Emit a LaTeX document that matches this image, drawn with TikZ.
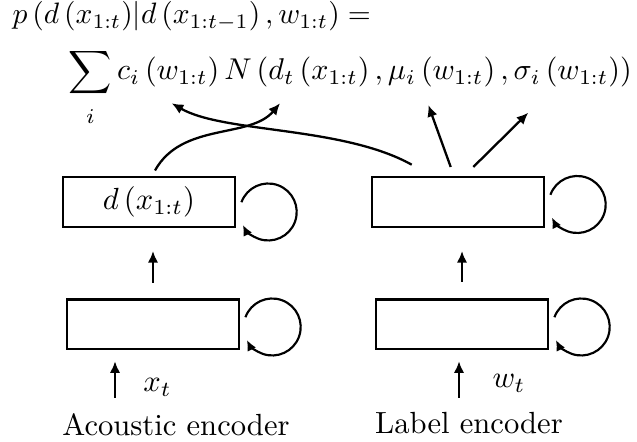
\documentclass[tikz,border=0pt]{standalone}
\usetikzlibrary{arrows.meta,calc}
\begin{document}
\begin{tikzpicture}[x=0.3268pt, y=0.3268pt,
  box/.style={draw, line width=0.8pt, minimum width=56.2pt, minimum height=16.2pt, inner sep=0pt},
  arr/.style={line width=0.75pt, -{Latex[length=3.8pt,width=3.4pt]}},
  loopst/.style={line width=0.7pt, -{Latex[length=3.5pt,width=3.1pt]}},
  txt/.style={inner sep=0pt},
  formula/.style={inner sep=0pt, anchor=base west}]
\useasboundingbox (0,0) rectangle (637,442);

% formula
\node[formula, scale=0.965] (f1) at (12,418) {$p\left(d\left(x_{1:t}\right)\middle|d\left(x_{1:t-1}\right),w_{1:t}\right)=$};
\node[formula, scale=0.982] (f2) at (68,362) {$\displaystyle\sum_{\lower3pt\hbox{$\scriptstyle i$}} c_i\left(w_{1:t}\right)N\left(d_t\left(x_{1:t}\right),\mu_i\left(w_{1:t}\right),\sigma_i\left(w_{1:t}\right)\right)$};

% boxes
\node[box] (A2) at (149,240) {$d\left(x_{1:t}\right)$};
\node[box] (L2) at (458,240) {};
\node[box] (A1) at (153,117.5) {};
\node[box] (L1) at (462,117.5) {};

% self loops
\draw[loopst] ($(A2.east)+(32,-10)$) ++(160:9.31pt) arc[start angle=160, end angle=-153, radius=9.31pt];
\draw[loopst] ($(L2.east)+(32,-2.5)$) ++(160:9.31pt) arc[start angle=160, end angle=-153, radius=9.31pt];
\draw[loopst] ($(A1.east)+(32,-2.5)$) ++(160:9.31pt) arc[start angle=160, end angle=-153, radius=9.31pt];
\draw[loopst] ($(L1.east)+(32,-2.5)$) ++(160:9.31pt) arc[start angle=160, end angle=-153, radius=9.31pt];

% between layers
\draw[arr] ($(A1.north)+(0,15.5)$) -- ($(A2.south)+(4,-23)$);
\draw[arr] ($(L1.north)+(0,16.5)$) -- ($(L2.south)+(4,-23)$);

% inputs
\coordinate (xin) at (115,44);
\coordinate (win) at (459,44);
\draw[arr] (xin) -- ($(A1.south)+(-38,-10.75)$);
\draw[arr] (win) -- ($(L1.south)+(-3,-10.75)$);
\node[txt, anchor=base] (xt) at (157.5,50) {$x_t$};
\node[txt, anchor=base] (wt) at (509,54) {$w_t$};
\node[txt, anchor=base] (la) at (176,6) {Acoustic encoder};
\node[txt, anchor=base] (ll) at (469,8) {Label encoder};

% outputs to formula
\coordinate (tc) at (171.7,338.7);
\coordinate (td) at (280,338.7);
\coordinate (tmu) at (428.3,337);
\coordinate (tsig) at (528.3,329.3);
\draw[arr] ($(A2.north)+(6,5.5)$) .. controls (182,320) and (250,303) .. (td);
\draw[arr] ($(L2.north)+(-46.3,11.3)$) .. controls (342.1,316) and (223.9,308.7) .. (tc);
\draw[arr] ($(L2.north)+(-7.3,9)$) -- (tmu);
\draw[arr] ($(L2.north)+(15.3,9)$) -- (tsig);
\end{tikzpicture}
\end{document}
